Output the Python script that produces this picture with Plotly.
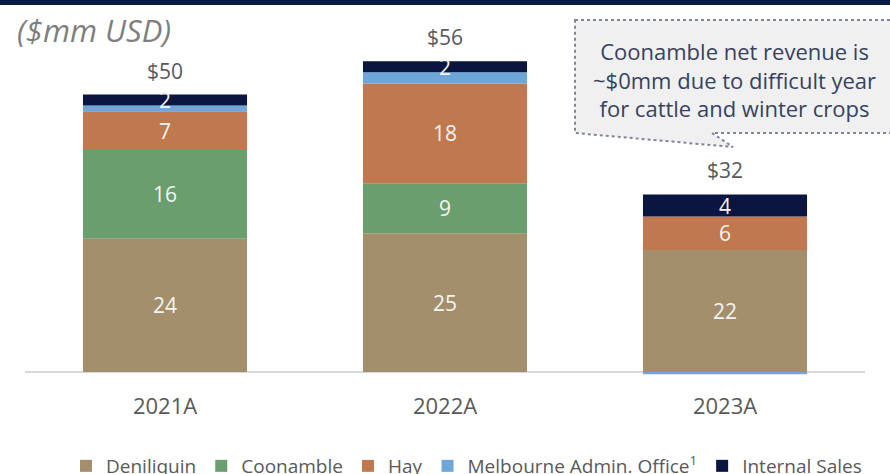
import plotly.graph_objects as go

# Net revenue by farm, $mm USD
years = ["2021A", "2022A", "2023A"]
deniliquin = [24, 25, 22]
coonamble = [16, 9, 0]
hay = [7, 18, 6]
melbourne = [1, 2, -0.4]
internal = [2, 2, 4]
totals = [50, 56, 32]

series = [
    ("Deniliquin", deniliquin, "#A38F6B", True),
    ("Coonamble", coonamble, "#6B9E6F", True),
    ("Hay", hay, "#C0784F", True),
    ("Melbourne Admin. Office<sup>1</sup>", melbourne, "#6EA6DA", False),
    ("Internal Sales", internal, "#0A1540", True),
]

FONT = "Open Sans"
W, H = 890, 474
L, R, T, B = 25, 25, 28, 99
PW, PH = W - L - R, H - T - B


def px_x(px):
    return (px - L) / PW


def px_y(py):
    return (H - B - py) / PH


fig = go.Figure()
for name, vals, color, labelled in series:
    texts = [f"{v:g}" if (labelled and v > 0) else "" for v in vals]
    fig.add_trace(go.Bar(
        name=name,
        x=years,
        y=vals,
        marker=dict(color=color, line=dict(width=0)),
        text=texts,
        textposition="inside",
        insidetextanchor="middle",
        textangle=0,
        textfont=dict(family=FONT, size=21, color="#F4F4F4"),
        hoverinfo="skip",
    ))

# Stack totals above each column
for yr, tot, d, c, h, m, i in zip(years, totals, deniliquin, coonamble, hay, melbourne, internal):
    top = sum(v for v in (d, c, h, m, i) if v > 0)
    fig.add_annotation(
        x=yr, y=top, text=f"${tot}", showarrow=False, yshift=24,
        font=dict(family=FONT, size=21, color="#595959"),
    )

# Unit caption
fig.add_annotation(
    xref="paper", yref="paper", x=px_x(15), y=px_y(30),
    xanchor="left", yanchor="middle", showarrow=False,
    text="<i>($mm USD)</i>",
    font=dict(family=FONT, size=31, color="#7F7F7F"),
)

# Callout box with pointer toward the 2023A column
bx0, bx1, by0, by1 = 575, 905, 20, 133
tail_a, tip_x, tip_y = 712, 733, 147
path = (
    f"M {px_x(bx0)},{px_y(by0)} L {px_x(bx1)},{px_y(by0)} "
    f"L {px_x(bx1)},{px_y(by1)} L {px_x(tail_a)},{px_y(by1)} "
    f"L {px_x(tip_x)},{px_y(tip_y)} L {px_x(bx0)},{px_y(by1)} Z"
)
fig.add_shape(
    type="path", path=path, xref="paper", yref="paper",
    fillcolor="#F0F0F0", line=dict(color="#7F8796", width=2, dash="dot"),
    layer="below",
)
fig.add_annotation(
    xref="paper", yref="paper", x=px_x(734), y=px_y(80),
    xanchor="center", yanchor="middle", showarrow=False,
    text="Coonamble net revenue is<br>~$0mm due to difficult year<br>for cattle and winter crops",
    font=dict(family=FONT, size=22, color="#37425F"),
)

# Header rule across the top
fig.add_shape(
    type="rect", xref="paper", yref="paper",
    x0=px_x(0), x1=px_x(W), y0=px_y(5), y1=px_y(-2),
    fillcolor="#0B1A45", line=dict(width=0),
)

fig.update_layout(
    width=W, height=H,
    margin=dict(l=L, r=R, t=T, b=B, autoexpand=False),
    barmode="relative",
    bargap=0.414,
    plot_bgcolor="white",
    paper_bgcolor="white",
    font=dict(family=FONT, color="#595959"),
    uniformtext=dict(minsize=21, mode="show"),
    showlegend=True,
    legend=dict(
        orientation="h", x=px_x(66), xanchor="left",
        y=px_y(466), yanchor="middle",
        font=dict(family=FONT, size=19, color="#595959"),
        traceorder="normal", bgcolor="rgba(0,0,0,0)",
    ),
)
fig.update_xaxes(
    range=[-0.5, 2.5], showgrid=False, showline=False, ticks="",
    tickfont=dict(family=FONT, size=22, color="#595959"),
    ticklabelstandoff=16,
)
fig.update_yaxes(
    range=[-3 / 5.55, 344 / 5.55], showgrid=False, showticklabels=False,
    zeroline=True, zerolinecolor="#D9D9D9", zerolinewidth=2,
)

fig.write_html("out.html")
